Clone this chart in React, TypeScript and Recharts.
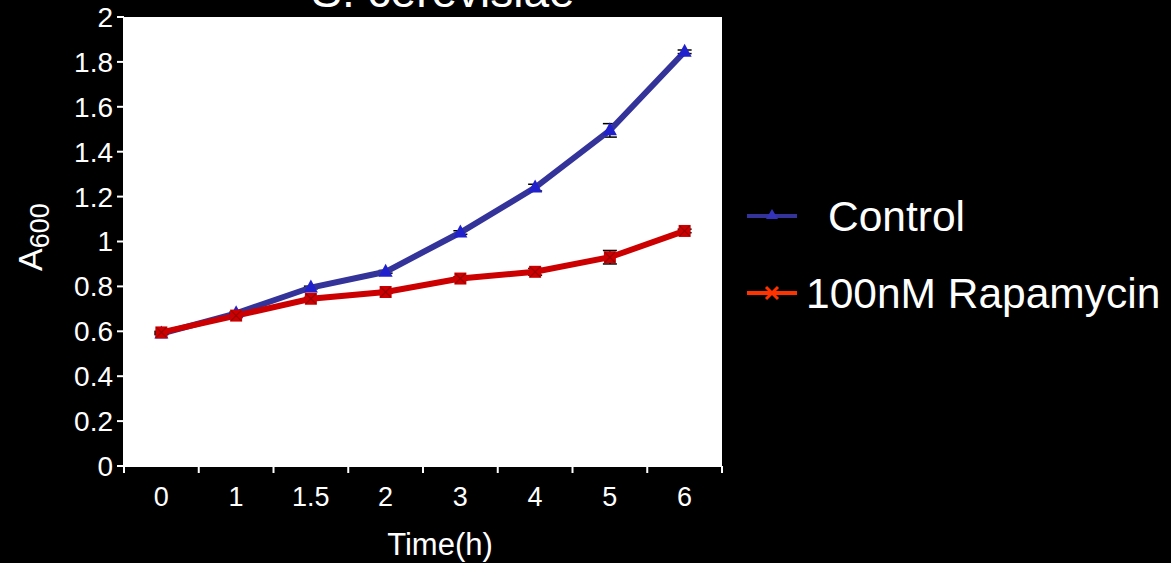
import React from 'react';
import { LineChart, Line, XAxis, YAxis, CartesianGrid, Legend, ErrorBar, Customized } from 'recharts';

const timeLabels = ['0', '1', '1.5', '2', '3', '4', '5', '6'];
const controlValues = [0.59, 0.68, 0.795, 0.865, 1.04, 1.24, 1.495, 1.845];
const rapamycinValues = [0.595, 0.67, 0.745, 0.775, 0.835, 0.865, 0.93, 1.047];
const controlErrors = [0.005, 0.005, 0.006, 0.006, 0.008, 0.015, 0.03, 0.008];
const rapamycinErrors = [0.005, 0.005, 0.006, 0.006, 0.008, 0.015, 0.03, 0.008];
const yTicks = [0, 0.2, 0.4, 0.6, 0.8, 1, 1.2, 1.4, 1.6, 1.8, 2];
const seriesNames = ['Control', '100nM Rapamycin'];
const titleText = 'S. cerevisiae';
const xTitle = 'Time(h)';

const data = timeLabels.map((t, i) => ({
  t,
  control: controlValues[i],
  rapamycin: rapamycinValues[i],
  ce: controlErrors[i],
  re: rapamycinErrors[i],
}));

const W = 1171;
const H = 563;
const PLOT_LEFT = 124;
const PLOT_RIGHT = 722;
const BAND = (PLOT_RIGHT - PLOT_LEFT) / timeLabels.length;
const HALF = BAND / 2;
const FONT = '"Liberation Sans", Arial, sans-serif';

const XTick = (props: any) => {
  const { x, y, payload, index } = props;
  const last = index === timeLabels.length - 1;
  return (
    <g>
      <line x1={x - HALF} y1={y} x2={x - HALF} y2={y + 7} stroke="#fff" strokeWidth={2} />
      {last && <line x1={x + HALF} y1={y} x2={x + HALF} y2={y + 7} stroke="#fff" strokeWidth={2} />}
      <text x={x} y={y + 40} textAnchor="middle" fill="#fff" fontSize={27}>
        {payload.value}
      </text>
    </g>
  );
};

const TriangleDot = (props: any) => {
  const { cx, cy } = props;
  if (cx == null || cy == null) return null;
  return <polygon points={`${cx},${cy - 8} ${cx - 7},${cy + 5} ${cx + 7},${cy + 5}`} fill="#2020cc" />;
};

const CrossDot = (props: any) => {
  const { cx, cy } = props;
  if (cx == null || cy == null) return null;
  return (
    <g>
      <rect x={cx - 6} y={cy - 6} width={12} height={12} fill="#cc0000" />
      <line x1={cx - 5} y1={cy - 5} x2={cx + 5} y2={cy + 5} stroke="#990000" strokeWidth={1.2} />
      <line x1={cx - 5} y1={cy + 5} x2={cx + 5} y2={cy - 5} stroke="#990000" strokeWidth={1.2} />
    </g>
  );
};

const renderLegend = () => (
  <svg width={426} height={150} style={{ display: 'block' }}>
    <line x1={2} y1={36} x2={52} y2={36} stroke="#333399" strokeWidth={4} />
    <polygon points="27,29 21,39 33,39" fill="#3333bb" />
    <text x={83} y={51} fill="#fff" fontSize={42.5} fontFamily={FONT}>{seriesNames[0]}</text>
    <line x1={2} y1={113} x2={52} y2={113} stroke="#ff3300" strokeWidth={4} />
    <line x1={21} y1={107} x2={33} y2={119} stroke="#ff3300" strokeWidth={3} />
    <line x1={21} y1={119} x2={33} y2={107} stroke="#ff3300" strokeWidth={3} />
    <text x={61} y={128} fill="#fff" fontSize={42.5} fontFamily={FONT}>{seriesNames[1]}</text>
  </svg>
);

const Extras = () => (
  <g>
    <text x={443} y={7} textAnchor="middle" fill="#fff" fontSize={46} fontFamily={FONT}>{titleText}</text>
    <text transform="translate(42,271) rotate(-90)" fill="#fff" fontSize={34} fontFamily={FONT}>
      A<tspan fontSize={27} dy={7}>600</tspan>
    </text>
  </g>
);

export default function App() {
  return (
    <div style={{ position: 'absolute', left: 0, top: 0, width: W, height: H, background: '#000', fontFamily: FONT }}>
      <LineChart
        width={W}
        height={H}
        data={data}
        margin={{ top: 17, right: 23, left: 0, bottom: 0 }}
        style={{ background: '#000' }}
      >
        <CartesianGrid horizontal={false} vertical={false} fill="#fff" stroke="none" />
        <XAxis
          dataKey="t"
          height={97}
          padding={{ left: HALF, right: HALF }}
          tickLine={false}
          tickSize={0}
          tickMargin={0}
          stroke="#fff"
          strokeWidth={2}
          tick={<XTick />}
          interval={0}
          label={{ value: xTitle, position: 'insideBottom', offset: 8, dx: 17, fill: '#fff', fontSize: 31 }}
        />
        <YAxis
          domain={[0, 2]}
          ticks={yTicks}
          width={124}
          stroke="#fff"
          strokeWidth={2}
          tickSize={7}
          tickMargin={4}
          tick={{ fill: '#fff', fontSize: 28 }}
          tickFormatter={(v: number) => String(Number(v.toFixed(1)))}
          interval={0}
        />
        <Legend
          layout="vertical"
          align="right"
          verticalAlign="middle"
          content={renderLegend}
          wrapperStyle={{ width: 426, height: 150, left: 745, top: 180, right: 'auto' }}
        />
        <Line
          dataKey="control"
          name={seriesNames[0]}
          stroke="#333399"
          strokeWidth={6}
          dot={<TriangleDot />}
          activeDot={false}
          isAnimationActive={false}
        >
          <ErrorBar dataKey="ce" width={7} strokeWidth={1.5} stroke="#000" direction="y" />
        </Line>
        <Line
          dataKey="rapamycin"
          name={seriesNames[1]}
          stroke="#cc0000"
          strokeWidth={6}
          dot={<CrossDot />}
          activeDot={false}
          isAnimationActive={false}
        >
          <ErrorBar dataKey="re" width={7} strokeWidth={1.5} stroke="#000" direction="y" />
        </Line>
        <Customized component={Extras} />
      </LineChart>
    </div>
  );
}
